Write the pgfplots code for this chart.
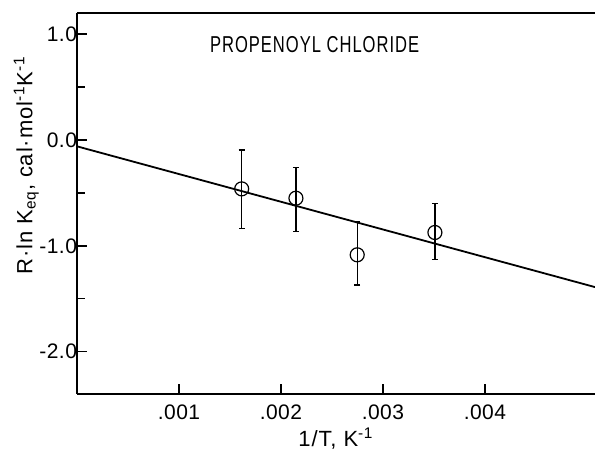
\documentclass[border=0pt]{standalone}
\usepackage{pgfplots}
\pgfplotsset{compat=1.18}
\usepackage{fontspec}
\setmainfont{Liberation Sans}
\usetikzlibrary{calc}

\begin{document}
\begin{tikzpicture}
\begin{axis}[
  scale only axis, width=259pt, height=190.5pt,
  xmin=0, xmax=0.00508, ymin=-2.4, ymax=1.2,
  axis x line*=box, axis y line*=left,
  axis line style={-, line width=0.9pt},
  xtick={0.001,0.002,0.003,0.004},
  xticklabels={.001,.002,.003,.004},
  ytick={-2,-1,0,1},
  yticklabels={-2.0,-1.0,0.0,1.0},
  minor ytick={-1.5,-0.5,0.5},
  scaled x ticks=false,
  xtick pos=bottom, ytick pos=left,
  tick align=inside, major tick length=5pt, minor tick length=4pt,
  tick style={line width=0.7pt, black},
  tick label style={font=\fontsize{10.5}{12}\selectfont\addfontfeatures{LetterSpace=2}},
  xticklabel style={yshift=-2pt},
  yticklabel style={xshift=3.5pt},
  xlabel={1/T, K\textsuperscript{-1}},
  ylabel={R·ln K\textsubscript{eq}, cal·mol\textsuperscript{-1}K\textsuperscript{-1}},
  label style={font=\fontsize{11}{12}\selectfont\addfontfeatures{LetterSpace=4}},
  xlabel style={yshift=3pt},
  ylabel style={at={(axis description cs:-0.098,0.6)}, anchor=center},
  clip=false,
]
% least-squares line
\addplot[black, line width=0.9pt] coordinates {(0,-0.06) (0.00508,-1.39)};
% data with asymmetric error bars
\addplot[black, only marks, mark=o, mark size=3.5pt, line width=0.6pt,
  error bars/.cd, y dir=both, y explicit,
  error bar style={line width=0.6pt},
  error mark options={rotate=90, mark size=1.5pt, line width=0.6pt}]
  coordinates {
    (0.001615,-0.462) -= (0,0.378) += (0,0.368)
    (0.002147,-0.550) -= (0,0.318) += (0,0.290)
    (0.002748,-1.085) -= (0,0.285) += (0,0.315)
    (0.003510,-0.874) -= (0,0.256) += (0,0.274)
  };
\node at (axis cs:0.00233,0.9) {\scalebox{0.72}[1]{\fontsize{11.5}{13}\selectfont\addfontfeatures{LetterSpace=6}PROPENOYL CHLORIDE}};
\end{axis}
\pgfresetboundingbox
\useasboundingbox ($(current axis.south west)+(-38.5pt,-29pt)$) rectangle ($(current axis.north east)+(0pt,6.5pt)$);
\end{tikzpicture}
\end{document}
